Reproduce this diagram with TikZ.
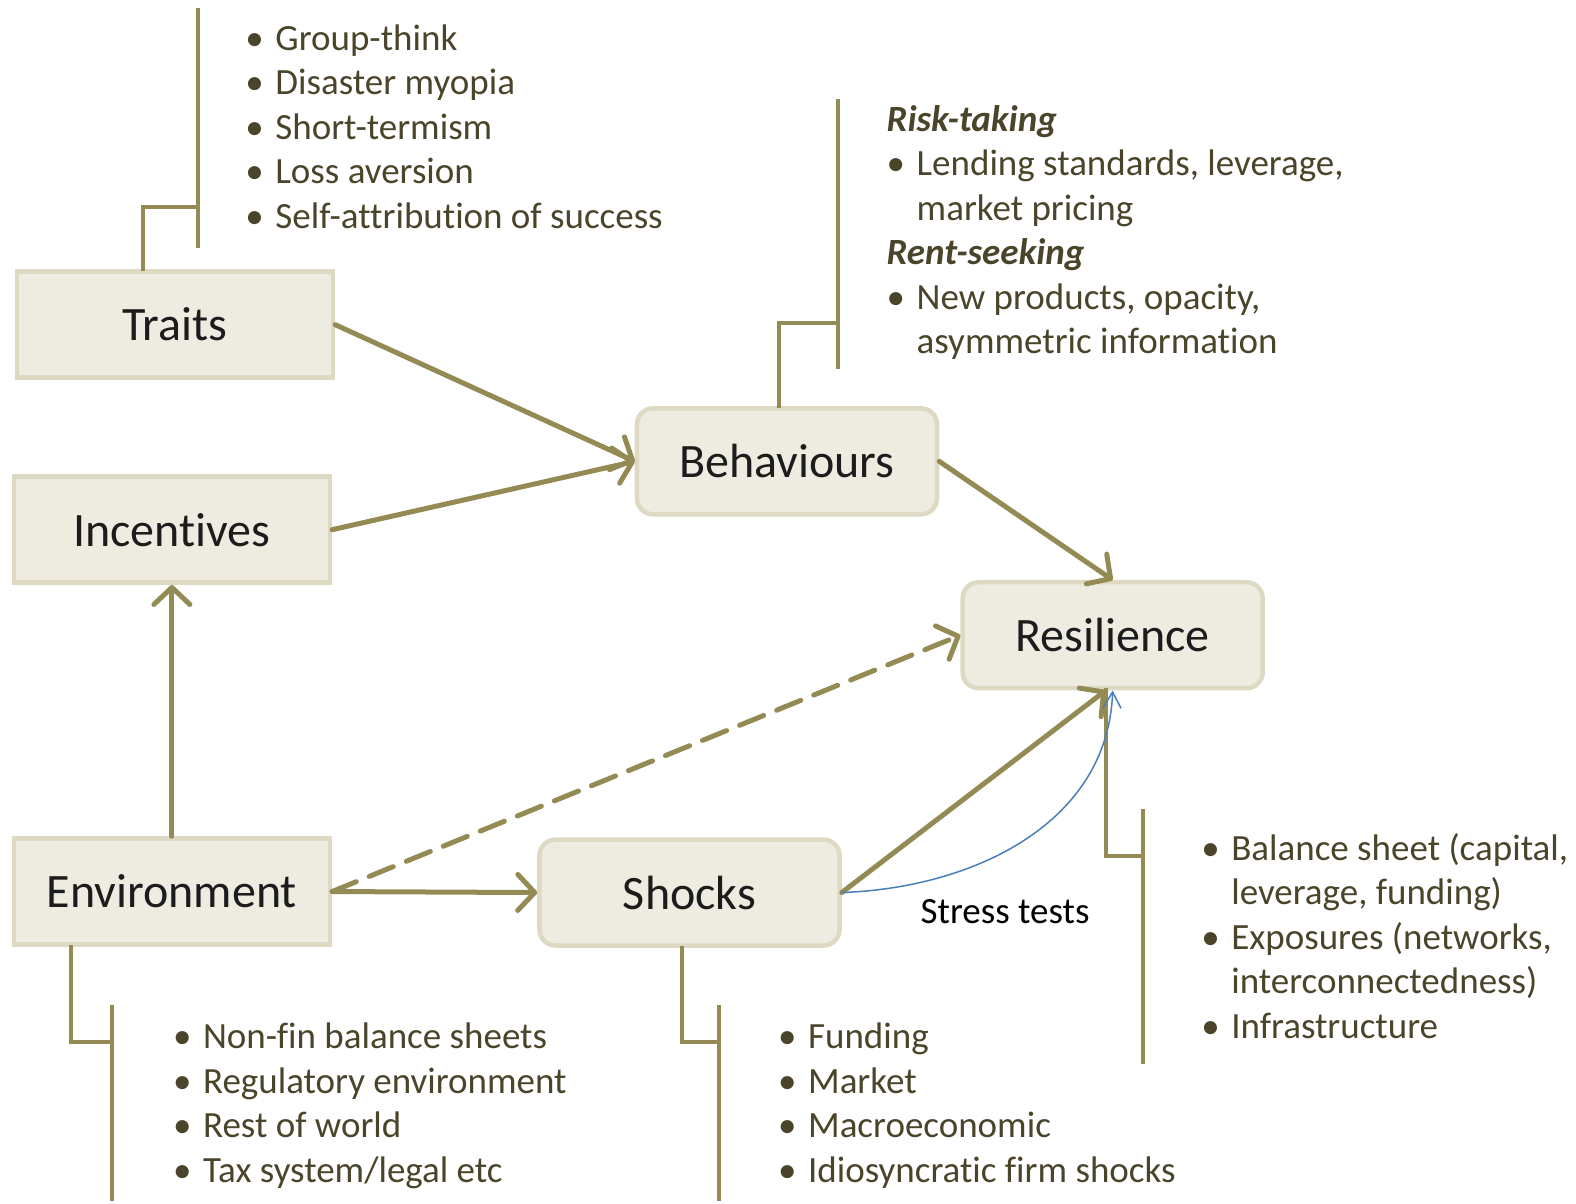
\documentclass[tikz,border=0pt]{standalone}
\usepackage{fontspec}
\setmainfont{Carlito}[Ligatures=NoCommon]
\usepackage{tikz}
\usetikzlibrary{arrows.meta,positioning}
\usepackage{xcolor}

\definecolor{tanfill}{HTML}{EEECE1}
\definecolor{tanline}{HTML}{DDD9C3}
\definecolor{linkolive}{HTML}{948A54}
\definecolor{listbrown}{HTML}{4A452A}
\definecolor{labeltext}{HTML}{1C1C1C}
\definecolor{stressblue}{HTML}{4A7EBB}

\newcommand{\bul}{\makebox[30pt][l]{\textbullet}}
\newcommand{\ind}{\hspace*{30pt}}

\begin{document}
\begin{tikzpicture}[x=1.005pt, y=-1.005pt,
        >={Straight Barb[length=17pt,width=36pt,round]},
        box/.style={draw=tanline, line width=4.5pt, fill=tanfill,
            minimum width=316pt, minimum height=106pt, inner sep=0pt,
            text=labeltext, font=\fontsize{48}{52}\selectfont},
        roundbox/.style={box, rounded corners=16pt, minimum width=300pt},
        link/.style={draw=linkolive, line width=5pt, line cap=round, ->},
        brace/.style={draw=linkolive, line width=4pt},
        items/.style={anchor=base west, align=left, inner sep=0pt,
            text=listbrown, font=\fontsize{37}{44.5}\selectfont}]
        \useasboundingbox (0,0) rectangle (1568,1197);

        \node[box] (traits) at (174,323) {Traits};
        \node[box] (incent) at (171,527) {Incentives};
        \node[box] (envir) at (171,887) {Environment};
        \node[roundbox] (behav) at (783,459) {Behaviours};
        \node[roundbox] (resil) at (1107,632) {Resilience};
        \node[roundbox] (shock) at (686,888) {Shocks};

        % brackets holding the lists
        \draw[brace] ([xshift=-32pt,yshift=-2pt]traits.north) |- (197,206);
        \draw[brace] (197,8) -- (197,247);
        \draw[brace] ([xshift=-8pt,yshift=-2pt]behav.north) |- (834,321);
        \draw[brace] (834,98) -- (834,367);
        \draw[brace] ([xshift=-7pt,yshift=2pt]resil.south) |- (1137,852);
        \draw[brace] (1137,805) -- (1137,1059);
        \draw[brace] ([xshift=-101pt,yshift=2pt]envir.south) |- (111,1037);
        \draw[brace] (111,1000) -- (111,1195);
        \draw[brace] ([xshift=-8pt,yshift=2pt]shock.south) |- (715,1037);
        \draw[brace] (715,1000) -- (715,1195);

        % main links
        \draw[link] (traits.east) -- (behav.west);
        \draw[link] (incent.east) -- (behav.west);
        \draw[link] (envir.north) -- (incent.south);
        \draw[link] (envir.east) -- (shock.west);
        \draw[link, dash pattern=on 26pt off 14pt] (envir.east) -- (resil.west);
        \draw[link] (behav.east) -- (resil.north);
        \draw[link] (shock.east) -- ([xshift=-7pt]resil.south);

        % stress test loop
        \draw[stressblue, line width=1.5pt,
            -{Straight Barb[length=16pt,width=18pt]}]
            (shock.east) to[out=2, in=-92] (resil.south);
        \node[anchor=base, inner sep=0pt, text=black,
            font=\fontsize{37}{44}\selectfont] (stress) at (1000,919) {Stress tests};

        % lists (anchored on the baseline of their last line)
        \node[items] (traitlist) at (244,227) {\bul Group-think\\
            \bul Disaster myopia\\ \bul Short-termism\\ \bul Loss aversion\\
            \bul Self-attribution of success};
        \node[items] (behavlist) at (882,352) {\textbf{\textit{Risk-taking}}\\
            \bul Lending standards, leverage,\\ \ind market pricing\\
            \textbf{\textit{Rent-seeking}}\\
            \bul New products, opacity,\\ \ind asymmetric information};
        \node[items] (resillist) at (1195,1033) {\bul Balance sheet (capital,\\
            \ind leverage, funding)\\ \bul Exposures (networks,\\
            \ind interconnectedness)\\ \bul Infrastructure};
        \node[items] (envirlist) at (172,1176) {\bul Non-fin balance sheets\\
            \bul Regulatory environment\\ \bul Rest of world\\
            \bul Tax system/legal etc};
        \node[items] (shocklist) at (774,1176) {\bul Funding\\ \bul Market\\
            \bul Macroeconomic\\ \bul Idiosyncratic firm shocks};
\end{tikzpicture}
\end{document}
